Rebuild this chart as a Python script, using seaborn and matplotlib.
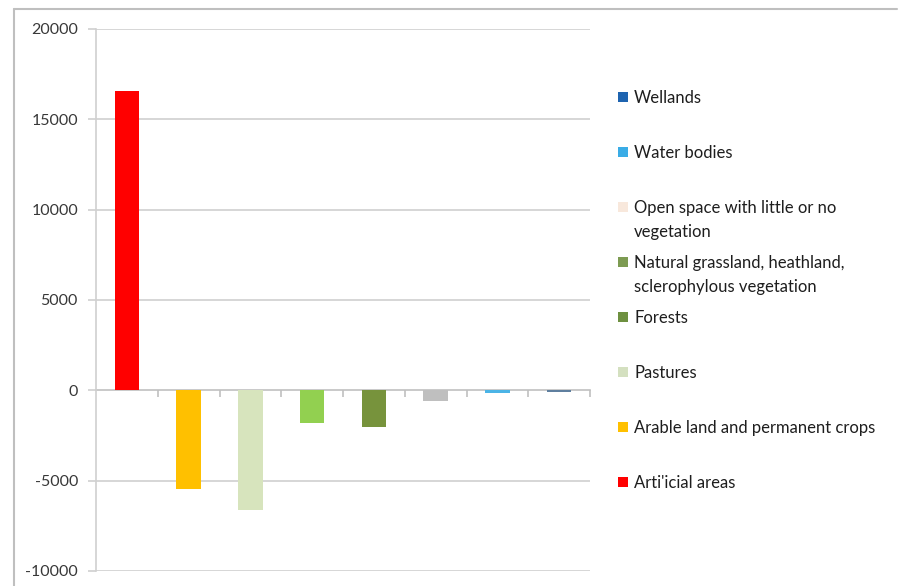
import numpy as np
import pandas as pd
import seaborn as sns
import matplotlib.pyplot as plt
from matplotlib.patches import Rectangle
from matplotlib.lines import Line2D

# land cover change, bars left to right
categories = ['Artificial areas', 'Arable land and permanent crops', 'Pastures', 'Forests',
              'Natural grassland, heathland,\nsclerophylous vegetation',
              'Open space with little or no\nvegetation', 'Water bodies', 'Wetlands']
values = [16550, -5480, -6650, -1830, -2050, -570, -150, -110]
bar_colors = ['#FF0000', '#FFC000', '#D7E4BD', '#92D050', '#77933C', '#BFBFBF', '#4BB4E6', '#5F7F9F']

# legend as drawn in the picture (top to bottom)
legend_labels = ['Wellands', 'Water bodies', 'Open space with little or no\nvegetation',
                 'Natural grassland, heathland,\nsclerophylous vegetation', 'Forests',
                 'Pastures', 'Arable land and permanent crops', "Arti'icial areas"]
legend_colors = ['#1E64B0', '#3AACE6', '#F8E8DC', '#7D9B52', '#6E9040', '#D4E0C0', '#FFC000', '#FF0000']

yticks = [-10000, -5000, 0, 5000, 10000, 15000, 20000]

sns.set_theme(style='white')
plt.rcParams['font.family'] = ['Lato', 'DejaVu Sans']

df = pd.DataFrame({'cat': categories, 'val': values})

fig = plt.figure(figsize=(9.01, 5.86), dpi=100)
ax = fig.add_axes([96 / 901, 1 - 571 / 586, (590 - 96) / 901, (571 - 29) / 586])

sns.barplot(data=df, x='cat', y='val', hue='cat', palette=bar_colors, order=categories,
            width=0.4, saturation=1, legend=False, ax=ax, zorder=3, linewidth=0, edgecolor='none')

ax.set_ylim(-10000, 20000)
ax.set_xlim(-0.5, len(categories) - 0.5)
ax.set_yticks(yticks)
ax.set_yticklabels([str(t) for t in yticks])
ax.set_xlabel('')
ax.set_ylabel('')

grid_c = '#D0D0D0'
for t in yticks:
    if t != 0:
        ax.axhline(t, color=grid_c, lw=1.2, zorder=1)

for s in ['top', 'right']:
    ax.spines[s].set_visible(False)
ax.spines['left'].set_color(grid_c)
ax.spines['left'].set_linewidth(1.2)
ax.spines['bottom'].set_position(('data', 0))
ax.spines['bottom'].set_color('#C0C0C0')
ax.spines['bottom'].set_linewidth(1.2)
ax.spines['bottom'].set_zorder(2)

ax.set_xticks(range(len(categories)))
ax.set_xticklabels([''] * len(categories))
ax.set_xticks(np.arange(0.5, len(categories), 1.0), minor=True)
ax.tick_params(axis='x', which='major', length=0)
ax.tick_params(axis='x', which='minor', length=5, width=1.2, color='#C0C0C0', direction='out', bottom=True)
ax.tick_params(axis='y', length=6, width=1.2, color=grid_c, pad=7, labelsize=11.5,
               labelcolor='#383838', left=True)

# legend on the right
for i, (lab, col) in enumerate(zip(legend_labels, legend_colors)):
    yc = 97 + 55 * i
    fig.patches.append(Rectangle((618 / 901, 1 - (yc + 5) / 586), 10 / 901, 10 / 586,
                                 facecolor=col, edgecolor='none', transform=fig.transFigure))
    fig.text(634 / 901, 1 - (yc - 7) / 586, lab, ha='left', va='top', fontsize=12,
             color='#1E1E1E', linespacing=1.6)

# outer frame of the chart area
fig.add_artist(Line2D([14 / 901, 897 / 901], [1 - 9 / 586, 1 - 9 / 586], color='#BFBFBF', lw=1.5,
                      transform=fig.transFigure))
fig.add_artist(Line2D([14 / 901, 14 / 901], [0, 1 - 9 / 586], color='#BFBFBF', lw=1.5,
                      transform=fig.transFigure))

fig.savefig('out.png', dpi=100)
